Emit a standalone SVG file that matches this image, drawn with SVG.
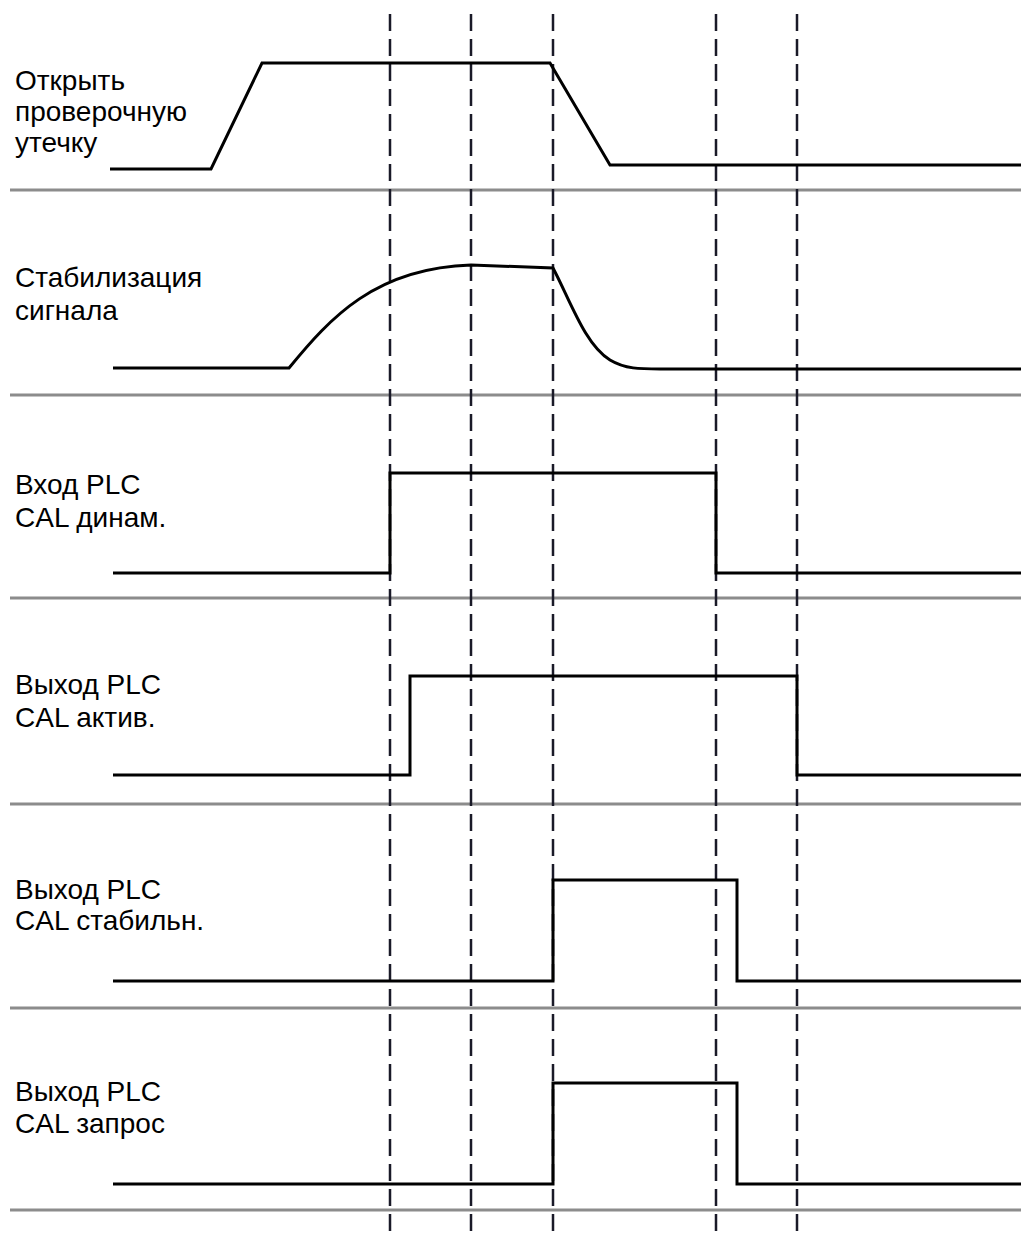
<svg xmlns="http://www.w3.org/2000/svg" width="1021" height="1233" viewBox="0 0 1021 1233">
<style>
.sep{stroke:#8c8c8c;stroke-width:3;fill:none}
.dash{stroke:#1a1a28;stroke-width:2.5;stroke-dasharray:17 8;fill:none}
.wave{stroke:#000;stroke-width:3;fill:none;stroke-linejoin:miter}
.lbl{font-family:"Liberation Sans",Arial,sans-serif;font-size:28px;fill:#000}
</style>
<rect width="1021" height="1233" fill="#fff"/>
<g id="separators">
<line class="sep" x1="10" y1="190" x2="1021" y2="190"/>
<line class="sep" x1="10" y1="395" x2="1021" y2="395"/>
<line class="sep" x1="10" y1="598" x2="1021" y2="598"/>
<line class="sep" x1="10" y1="804" x2="1021" y2="804"/>
<line class="sep" x1="10" y1="1008" x2="1021" y2="1008"/>
<line class="sep" x1="10" y1="1210" x2="1021" y2="1210"/>
</g>
<g id="connectors">
<line class="dash" x1="390" y1="14" x2="390" y2="1233"/>
<line class="dash" x1="471" y1="14" x2="471" y2="1233"/>
<line class="dash" x1="553" y1="14" x2="553" y2="1233"/>
<line class="dash" x1="716" y1="14" x2="716" y2="1233"/>
<line class="dash" x1="797" y1="14" x2="797" y2="1233"/>
</g>
<g id="row1">
<text class="lbl" x="15" y="90">Открыть</text>
<text class="lbl" x="15" y="121">проверочную</text>
<text class="lbl" x="15" y="152">утечку</text>
<path class="wave" d="M110,169 H211 L262,63 H550 L610,165 H1021"/>
</g>
<g id="row2">
<text class="lbl" x="15" y="287">Стабилизация</text>
<text class="lbl" x="15" y="320">сигнала</text>
<path class="wave" d="M113,368 H289 C330,318 375,268 471,265 L553,268 C570,300 585,345 610,360 C625,369 640,369 660,369 H1021"/>
</g>
<g id="row3">
<text class="lbl" x="15" y="494">Вход PLC</text>
<text class="lbl" x="15" y="527">CAL динам.</text>
<path class="wave" d="M113,573 H390 V473 H716 V573 H1021"/>
</g>
<g id="row4">
<text class="lbl" x="15" y="694">Выход PLC</text>
<text class="lbl" x="15" y="727">CAL актив.</text>
<path class="wave" d="M113,775 H410 V676 H797 V775 H1021"/>
</g>
<g id="row5">
<text class="lbl" x="15" y="899">Выход PLC</text>
<text class="lbl" x="15" y="930">CAL стабильн.</text>
<path class="wave" d="M113,981 H553 V880 H737 V981 H1021"/>
</g>
<g id="row6">
<text class="lbl" x="15" y="1101">Выход PLC</text>
<text class="lbl" x="15" y="1133">CAL запрос</text>
<path class="wave" d="M113,1184 H553 V1083 H737 V1184 H1021"/>
</g>
</svg>
